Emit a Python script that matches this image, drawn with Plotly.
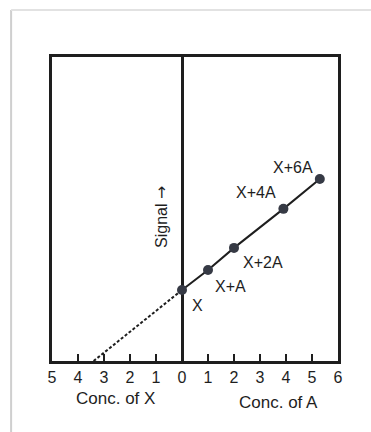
import plotly.graph_objects as go

# Data
labels = ["X", "X+A", "X+2A", "X+4A", "X+6A"]
conc_a = [0, 1, 2, 3.9, 5.3]
signal = [2.73, 3.5, 4.35, 5.85, 7.0]
extrap_x = [-3.4, 0]
extrap_y = [0, 2.73]
tick_vals = [-5, -4, -3, -2, -1, 0, 1, 2, 3, 4, 5, 6]
tick_text = ["5", "4", "3", "2", "1", "0", "1", "2", "3", "4", "5", "6"]

FONT = "Liberation Sans, Arial, sans-serif"
INK = "#1e1e1e"

fig = go.Figure()
fig.add_trace(go.Scatter(x=extrap_x, y=extrap_y, mode="lines",
                         line=dict(color=INK, width=2, dash="3px,2px"), hoverinfo="skip"))
fig.add_trace(go.Scatter(x=conc_a, y=signal, mode="lines+markers",
                         line=dict(color=INK, width=2),
                         marker=dict(color="#363a45", size=10), hoverinfo="skip"))

offsets = {"X": (15, -15), "X+A": (22, -17), "X+2A": (29, -15),
           "X+4A": (-27, 16), "X+6A": (-27, 11)}
for lab, xv, yv in zip(labels, conc_a, signal):
    dx, dy = offsets[lab]
    fig.add_annotation(x=xv, y=yv, text=lab, showarrow=False, xshift=dx, yshift=dy,
                       xanchor="center", yanchor="middle",
                       font=dict(family=FONT, size=16, color=INK))

fig.add_annotation(x=-0.77, y=5.54,
                   text="Signal <span style='font-family:DejaVu Sans'>\u2192</span>",
                   textangle=-90, showarrow=False, xanchor="center", yanchor="middle",
                   font=dict(family=FONT, size=16, color=INK))
fig.add_annotation(x=-2.54, y=0, yref="paper", yshift=-37, text="Conc. of X", showarrow=False,
                   xanchor="center", yanchor="middle",
                   font=dict(family=FONT, size=17, color=INK))
fig.add_annotation(x=3.73, y=0, yref="paper", yshift=-41, text="Conc. of A", showarrow=False,
                   xanchor="center", yanchor="middle",
                   font=dict(family=FONT, size=17, color=INK))

# faint page edge
fig.add_shape(type="line", xref="paper", yref="paper", x0=-0.143, x1=-0.143, y0=-0.25, y1=1.155,
              line=dict(color="#cfcfcf", width=2))
fig.add_shape(type="line", xref="paper", yref="paper", x0=-0.143, x1=1.12, y0=1.155, y1=1.155,
              line=dict(color="#e2e2e2", width=2))

fig.update_xaxes(range=[-5, 6], tickvals=tick_vals, ticktext=tick_text, ticks="inside",
                 ticklen=7, tickwidth=2, tickcolor=INK, showline=True, mirror=True,
                 linecolor=INK, linewidth=2.5, showgrid=False, zeroline=True,
                 zerolinecolor=INK, zerolinewidth=2.5, ticklabelstandoff=0,
                 tickfont=dict(family=FONT, size=16, color=INK))
fig.update_yaxes(range=[0, 11.69], showticklabels=False, ticks="", showline=True, mirror=True,
                 linecolor=INK, linewidth=2.5, showgrid=False, zeroline=False)
fig.update_layout(width=371, height=432, margin=dict(l=52, r=33, t=57, b=71),
                  paper_bgcolor="white", plot_bgcolor="white", showlegend=False)
fig.write_html("out.html", config={"displayModeBar": False},
               post_script="document.body.style.margin='0';")
